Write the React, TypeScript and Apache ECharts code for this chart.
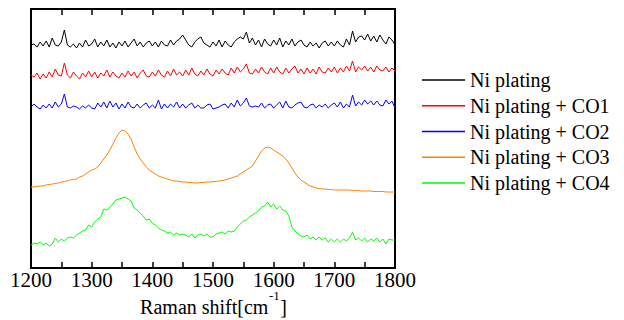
import React, { useEffect, useRef } from "react";
import * as echarts from "echarts";

const seriesNames = [
  "Ni plating",
  "Ni plating + CO1",
  "Ni plating + CO2",
  "Ni plating + CO3",
  "Ni plating + CO4",
];
const seriesColors = ["#000000", "#ff0000", "#0000ff", "#ff8000", "#00ff00"];
const xTickLabels = [1200, 1300, 1400, 1500, 1600, 1700, 1800];
const axisNameMain = "Raman shift[cm";
const axisNameSup = "-1";
const axisNameEnd = "]";

// sampled every 5 cm-1 from 1200 to 1800 (121 points)
const niPlating = [
  223, 224, 221, 226, 222, 227, 221, 230, 223, 222,
  226, 238, 223, 221, 224, 220, 225, 221, 228, 222,
  224, 229, 221, 226, 222, 228, 221, 225, 220, 226,
  222, 227, 221, 225, 229, 222, 226, 221, 225, 227,
  222, 226, 221, 227, 223, 222, 228, 223, 227, 229,
  233, 228, 223, 221, 226, 229, 231, 225, 223, 221,
  226, 222, 228, 221, 227, 223, 221, 226, 229, 231,
  229, 236, 225, 230, 223, 228, 221, 229, 224, 222,
  228, 223, 230, 221, 227, 223, 229, 222, 226, 228,
  223, 221, 226, 222, 225, 220, 225, 227, 222, 226,
  222, 227, 223, 221, 229, 223, 237, 226, 231, 232,
  228, 234, 227, 232, 226, 233, 228, 224, 231, 228,
  223,
];
const co1 = [
  193, 191, 195, 189, 194, 190, 196, 191, 199, 193,
  192, 205, 193, 190, 196, 192, 189, 195, 191, 197,
  191, 196, 190, 195, 192, 198, 191, 196, 192, 190,
  195, 191, 197, 192, 196, 190, 195, 198, 192, 191,
  196, 192, 198, 193, 191, 197, 192, 199, 193, 196,
  192, 198, 193, 200, 194, 192, 197, 193, 199, 194,
  192, 198, 194, 199, 195, 193, 200, 195, 201, 196,
  199, 204, 195, 194, 199, 195, 201, 196, 194, 200,
  195, 201, 196, 194, 200, 195, 199, 202, 195, 199,
  194, 200, 195, 199, 194, 201, 196, 195, 200, 196,
  201, 195, 200, 196, 202, 197, 207, 196, 201, 198,
  202, 197, 201, 196, 202, 198, 197, 201, 196, 200,
  197,
];
const co2 = [
  161, 164, 161, 159, 163, 160, 164, 160, 166, 161,
  164, 174, 161, 160, 162, 161, 159, 162, 160, 163,
  160, 159, 165, 161, 166, 160, 167, 161, 165, 159,
  164, 160, 166, 161, 160, 164, 160, 163, 165, 160,
  163, 160, 168, 159, 164, 160, 164, 161, 166, 160,
  164, 160, 163, 165, 160, 163, 160, 160, 163, 164,
  159, 160, 161, 163, 164, 160, 165, 161, 168, 162,
  165, 170, 162, 161, 162, 161, 165, 160, 163, 164,
  160, 163, 166, 160, 167, 161, 160, 163, 165, 166,
  161, 160, 163, 164, 160, 163, 161, 164, 160, 163,
  165, 161, 166, 160, 164, 161, 173, 162, 166, 163,
  168, 164, 167, 163, 167, 163, 162, 168, 164, 167,
  160,
];
const co3 = [
  81, 81, 81.5, 82, 82, 83, 83.5, 84, 84.5, 85,
  86, 86.5, 87, 88, 88.5, 89, 91, 92, 94, 96,
  98, 99, 101, 105, 109, 113, 118, 124, 130, 135,
  138, 137, 134, 129, 121, 114, 109, 105, 101, 98,
  96, 94, 92, 91, 90, 89, 88, 87, 87, 86.5,
  86, 86, 85.5, 85.5, 85, 85, 85.5, 85.5, 86, 86,
  86.5, 86.5, 87, 87.5, 88, 89, 90, 91, 92, 94,
  96, 98, 100, 102, 107, 112, 117, 120, 121, 120,
  118, 116, 114, 112, 109, 105, 100, 95, 91, 88,
  86, 84, 82, 81, 80, 79.5, 79, 79, 78.5, 78.5,
  78, 78, 78, 78, 78, 78, 77.5, 77.5, 77.5, 77,
  77, 77, 77, 76.5, 76.5, 76.5, 76.5, 76, 76, 76,
  76,
];
const co4 = [
  23, 25, 24, 26, 23, 25, 22, 24, 30, 26,
  29, 27, 30, 31, 30, 33, 35, 37, 38, 43,
  41, 46, 49, 51, 59, 58, 61, 64, 68, 69,
  70, 71, 69, 67, 60, 58, 55, 52, 48, 49,
  45, 43, 40, 38, 37, 35, 36, 33, 35, 33,
  34, 33, 31, 34, 30, 33, 34, 32, 34, 31,
  31, 34, 35, 36, 34, 37, 36, 37, 41, 44,
  47, 48, 51, 53, 55, 57, 61, 62, 66, 61,
  64, 59, 62, 58, 57, 52, 41, 37, 34, 32,
  31, 33, 29, 31, 28, 31, 28, 30, 26, 29,
  26, 29, 26, 29, 27, 30, 36, 28, 30, 27,
  30, 26, 29, 27, 30, 26, 29, 24, 29, 28,
  28,
];
const allSeries = [niPlating, co1, co2, co3, co4];

const xStart = 1200;
const xStep = 5;

const FONT = "Liberation Serif";

function txt(text: string, x: number, y: number, size: number, align: string) {
  return {
    type: "text",
    x,
    y,
    silent: true,
    style: {
      text,
      fontFamily: FONT,
      fontSize: size,
      fill: "#000",
      align,
      verticalAlign: "middle",
      textAlign: align,
      textVerticalAlign: "middle",
    },
  };
}

export default function App() {
  const ref = useRef<HTMLDivElement>(null);
  useEffect(() => {
    if (!ref.current) return;
    const chart = echarts.init(ref.current, undefined, { renderer: "svg" });
    const tickCommon = {
      type: "value" as const,
      min: 1200,
      max: 1800,
      interval: 100,
      axisLine: { show: false },
      splitLine: { show: false },
      axisLabel: { show: false },
      axisTick: { show: true, inside: true, length: 6, lineStyle: { color: "#000", width: 1.5 } },
      minorTick: { show: true, splitNumber: 2, length: 6, lineStyle: { color: "#000", width: 1.5 } },
      minorSplitLine: { show: false },
    };
    chart.setOption({
      animation: false,
      backgroundColor: "#fff",
      grid: {
        left: 31,
        right: 229,
        top: 9,
        bottom: 52,
        show: true,
        borderColor: "#000",
        borderWidth: 2,
        backgroundColor: "transparent",
      },
      xAxis: [
        { ...tickCommon, position: "bottom" },
        { ...tickCommon, position: "top" },
      ],
      yAxis: { type: "value", min: 0, max: 259, show: false },
      series: allSeries.map((vals, k) => ({
        name: seriesNames[k],
        type: "line",
        xAxisIndex: 0,
        showSymbol: false,
        symbol: "none",
        lineStyle: { color: seriesColors[k], width: 1 },
        itemStyle: { color: seriesColors[k] },
        data: vals.map((v, i) => [xStart + i * xStep, v]),
      })),
    });

    const elements: any[] = [];
    // tick labels placed through the axis scale
    xTickLabels.forEach((v) => {
      const px = chart.convertToPixel({ xAxisIndex: 0 }, v) as number;
      elements.push(txt(String(v), px, 280, 21, "center"));
    });

    // axis name with superscript
    let w1 = 118, w2 = 11, w3 = 7;
    try {
      const ctx = document.createElement("canvas").getContext("2d");
      if (ctx) {
        ctx.font = "20px 'Liberation Serif'";
        w1 = ctx.measureText(axisNameMain).width;
        w3 = ctx.measureText(axisNameEnd).width;
        ctx.font = "13px 'Liberation Serif'";
        w2 = ctx.measureText(axisNameSup).width;
      }
    } catch (e) {}
    const left0 = 31, right0 = 395;
    const cx = (left0 + right0) / 2;
    const x0 = cx - (w1 + w2 + w3) / 2;
    elements.push(txt(axisNameMain, x0, 307, 20, "left"));
    elements.push(txt(axisNameSup, x0 + w1 + 0.5, 295, 13, "left"));
    elements.push(txt(axisNameEnd, x0 + w1 + w2 + 1, 307, 20, "left"));

    // legend
    seriesNames.forEach((name, i) => {
      const y = 80 + i * 25.75;
      elements.push({
        type: "line",
        silent: true,
        shape: { x1: 422, y1: y, x2: 465, y2: y },
        style: { stroke: seriesColors[i], lineWidth: 1.5 },
      });
      elements.push(txt(name, 470, y, 20, "left"));
    });

    chart.setOption({ graphic: elements });
    return () => chart.dispose();
  }, []);
  return <div ref={ref} style={{ width: 624, height: 320, position: "absolute", left: 0, top: 0 }} />;
}
